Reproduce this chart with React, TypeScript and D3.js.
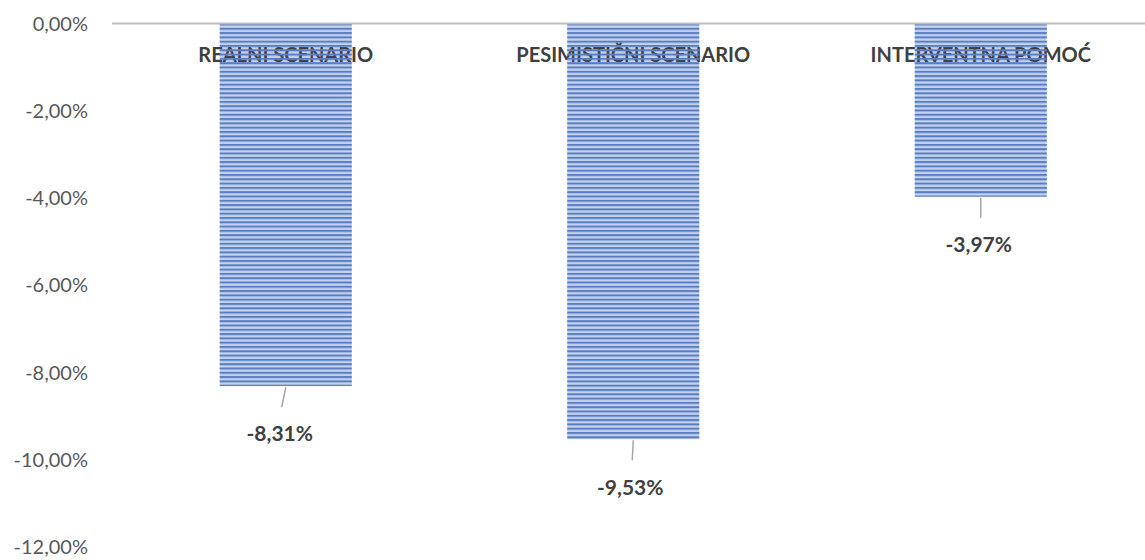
import React from "react";
import * as d3 from "d3";

const categories = ["REALNI SCENARIO", "PESIMISTIČNI SCENARIO", "INTERVENTNA POMOĆ"];
const values = [-8.31, -9.53, -3.97];
const valueLabels = ["-8,31%", "-9,53%", "-3,97%"];
const yTicks = [0, -2, -4, -6, -8, -10, -12];
const yTickLabels = ["0,00%", "-2,00%", "-4,00%", "-6,00%", "-8,00%", "-10,00%", "-12,00%"];
const leaderDx = [-4, -1, 0];

const W = 1145;
const H = 560;
const FONT = "Lato, 'Open Sans', sans-serif";

export default function App() {
  const x = d3.scaleBand<string>().domain(categories).range([112, 1154.5]).paddingInner(0.62).paddingOuter(0.31);
  const y = d3.scaleLinear().domain([0, -12]).range([23.5, 547]);
  const bw = x.bandwidth();

  return (
    <svg width={W} height={H} style={{ position: "absolute", left: 0, top: 0, background: "#fff" }}>
      <defs>
        <pattern id="stripes" patternUnits="userSpaceOnUse" width={8} height={4.3} y={y(0)}>
          <rect x={0} y={0} width={8} height={2} fill="#5a7dc2" />
        </pattern>
      </defs>
      {yTicks.map((t, i) => (
        <text key={t} x={88} y={y(t)} dy="0.35em" textAnchor="end" fontFamily={FONT} fontSize={20} fill="#595959">
          {yTickLabels[i]}
        </text>
      ))}
      {categories.map((c, i) => (
        <rect key={"bg" + c} x={x(c)} y={y(0)} width={bw} height={y(values[i]) - y(0)} fill="#c2d2ee" />
      ))}
      {categories.map((c) => (
        <text key={"cl" + c} x={(x(c) as number) + bw / 2} y={55} dy="0.35em" textAnchor="middle" fontFamily={FONT} fontWeight="bold" fontSize={20} fill="#404040">
          {c}
        </text>
      ))}
      {categories.map((c, i) => (
        <rect key={"st" + c} x={x(c)} y={y(0)} width={bw} height={y(values[i]) - y(0)} fill="url(#stripes)" />
      ))}
      <line x1={112} x2={W} y1={y(0)} y2={y(0)} stroke="#bfbfbf" strokeWidth={2} />
      {categories.map((c, i) => {
        const cx = (x(c) as number) + bw / 2;
        const yb = y(values[i]);
        return (
          <g key={"vl" + c}>
            <line x1={cx} y1={yb + 1} x2={cx + leaderDx[i]} y2={yb + 21} stroke="#a6a6a6" strokeWidth={1.5} />
            <text x={cx + leaderDx[i] - 2} y={yb + 48} dy="0.35em" textAnchor="middle" fontFamily={FONT} fontWeight="bold" fontSize={21} fill="#404040">
              {valueLabels[i]}
            </text>
          </g>
        );
      })}
    </svg>
  );
}
